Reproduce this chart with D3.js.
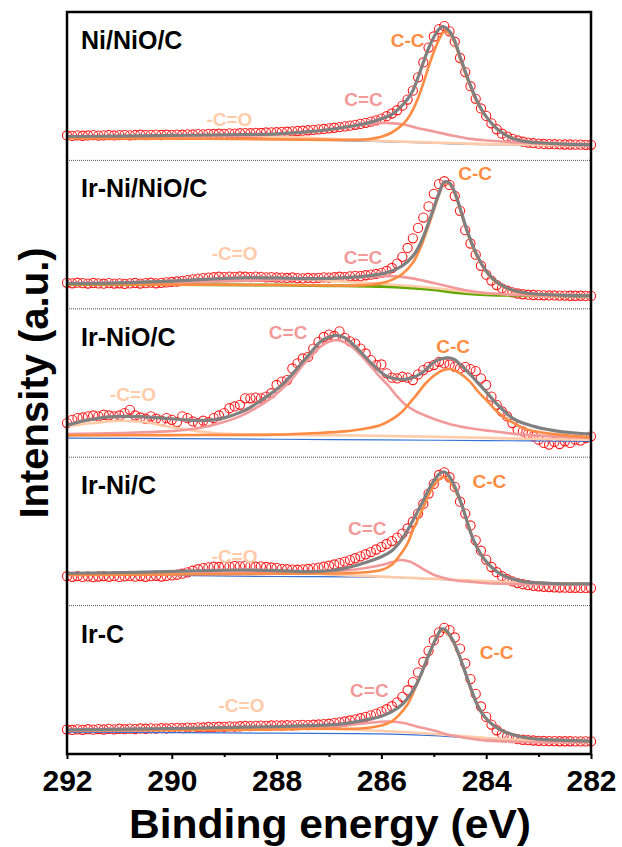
<!DOCTYPE html>
<html>
<head>
<meta charset="utf-8">
<script src="https://cdn.jsdelivr.net/npm/d3@7"></script>
<style>
  html, body { margin: 0; padding: 0; background: #fff; }
  svg { display: block; font-family: "Liberation Sans", Arial, sans-serif; }
</style>
</head>
<body>
<svg id="chart" width="622" height="847"></svg>
<script>
// ---------------- data ----------------
const panelNames = ["Ni/NiO/C", "Ir-Ni/NiO/C", "Ir-NiO/C", "Ir-Ni/C", "Ir-C"];
const xTicksMajor = [292, 290, 288, 286, 284, 282];
const xTicksMinor = [291, 289, 287, 285, 283];
const xTitle = "Binding energy (eV)";
const yTitle = "Intensity (a.u.)";

// measured points: 292.0 eV down to 282.0 eV, 0.1 eV steps (relative intensity, 0-100 per panel)
const dataNiNiOC = [
  16.8,16.5,16.9,16.6,16.8,17.0,16.7,16.9,17.1,16.8,
  17.0,17.2,16.9,17.1,17.3,17.0,17.2,17.4,17.1,17.3,
  17.2,17.4,17.3,17.6,17.5,17.7,17.6,17.9,17.8,18.0,
  17.9,18.2,18.1,18.3,18.4,18.3,18.6,18.5,18.8,18.9,
  19.0,19.2,19.3,19.6,19.8,20.0,20.3,20.6,20.9,21.2,
  21.6,22.0,22.4,22.9,23.4,24.0,24.6,25.3,26.1,27.0,
  28.2,29.8,31.6,33.8,36.9,41.0,47.0,56.0,66.0,76.0,
  83.5,88.5,90.5,87.0,80.0,69.0,59.5,50.0,41.5,35.0,
  30.0,25.0,21.0,18.0,16.0,14.5,13.4,12.6,12.0,11.6,
  11.3,11.1,11.0,10.9,10.8,10.7,10.7,10.6,10.6,10.5,
  10.5];
const dataIrNiNiOC = [
  17.5,17.2,17.6,17.3,17.0,17.4,17.1,16.9,17.3,17.0,
  17.2,16.8,17.1,17.4,17.0,17.3,17.6,17.2,17.5,17.8,
  18.1,18.4,18.8,19.3,19.8,20.3,20.7,21.0,21.3,21.6,
  21.4,21.7,21.5,21.8,21.6,21.4,21.7,21.5,21.2,21.4,
  21.1,21.0,20.8,21.1,20.7,20.5,20.8,20.6,20.9,21.2,
  21.0,21.3,21.6,21.4,21.9,22.2,22.0,22.6,23.0,23.5,
  24.2,25.5,27.5,30.5,35.0,41.0,47.5,54.5,61.5,69.0,
  77.5,84.0,86.0,83.5,76.0,66.0,53.0,44.0,36.5,29.0,
  23.0,19.0,16.0,13.8,12.2,11.1,10.3,9.8,9.5,9.3,
  9.2,9.1,9.0,9.0,8.9,8.9,8.8,8.8,8.8,8.7,
  8.7];
const dataIrNiOC = [
  23.0,25.2,26.3,26.8,27.5,28.1,27.5,28.6,28.1,27.5,
  28.1,29.7,31.9,28.1,26.8,25.9,27.5,25.9,24.6,26.3,
  25.2,23.7,27.5,26.3,24.1,23.0,24.6,23.7,26.3,28.1,
  29.7,33.0,34.2,35.3,39.7,39.7,40.2,39.7,40.8,43.1,
  48.7,50.9,52.0,59.8,63.2,66.5,67.6,73.2,77.7,81.0,
  82.6,81.7,84.8,80.4,78.1,76.6,73.2,69.9,65.4,62.1,
  62.5,56.5,53.6,53.1,54.2,53.6,52.0,55.8,58.7,60.9,
  62.1,64.3,63.2,62.5,60.9,59.8,60.9,59.4,58.0,53.1,
  48.7,40.8,35.3,30.8,27.5,23.0,18.5,17.4,15.6,14.1,
  11.8,9.6,8.5,10.3,8.9,10.7,9.6,11.8,11.2,12.9,
  14.1];
const dataIrNiC = [
  19.8,19.4,19.9,19.3,19.7,19.2,19.6,19.9,19.4,19.8,
  19.3,19.7,20.0,19.5,19.9,19.4,19.8,20.1,19.6,20.0,
  20.3,20.8,21.5,22.4,23.5,24.5,25.3,25.8,26.2,26.0,
  26.5,26.3,26.7,26.4,26.8,26.5,26.2,26.4,26.0,25.7,
  25.4,24.8,24.5,24.3,24.2,24.4,24.7,25.1,25.6,26.2,
  26.9,27.7,28.6,29.6,30.7,31.9,33.2,34.6,36.1,37.8,
  39.6,41.5,43.5,45.8,48.5,52.0,56.5,62.0,68.5,75.5,
  82.0,88.0,89.8,86.5,80.0,70.0,62.0,54.0,44.0,37.0,
  31.0,26.0,22.5,19.8,17.8,16.3,15.2,14.4,13.8,13.3,
  13.0,12.7,12.5,12.3,12.2,12.1,12.0,12.0,11.9,11.9,
  11.8];
const dataIrC = [
  16.5,16.2,16.6,16.3,16.7,16.4,16.8,16.5,16.9,16.6,
  17.0,16.7,17.1,16.8,17.2,17.0,17.3,17.1,17.4,17.2,
  17.5,17.6,17.4,17.8,17.6,18.0,17.9,18.2,18.1,18.4,
  18.3,18.6,18.5,18.7,18.9,18.8,19.0,19.1,19.0,19.2,
  19.3,19.2,19.4,19.3,19.5,19.6,19.5,19.7,19.9,20.1,
  20.4,20.8,21.3,21.9,22.6,23.3,24.1,25.0,26.0,27.2,
  28.6,30.2,32.2,34.8,38.5,43.0,48.5,55.0,62.0,69.5,
  76.5,82.0,85.0,83.5,78.5,71.0,61.0,50.5,40.5,32.0,
  25.0,19.8,16.0,13.5,11.8,10.7,10.0,9.6,9.3,9.1,
  8.9,8.8,8.7,8.7,8.6,8.6,8.6,8.5,8.5,8.5,
  8.5];
const panelData = [dataNiNiOC, dataIrNiNiOC, dataIrNiOC, dataIrNiC, dataIrC];

// fitted components, [binding energy, intensity] per panel
const fitBackground = [
  [[292,15.0],[290,14.8],[288,14.2],[287,13.5],[286,12.6],[285,11.6],[284.5,11.0],[284,10.6],[283,10.2],[282,10.0]],
  [[292,16.5],[290,16.3],[288,16.0],[287,15.6],[286,15.0],[285.5,14.2],[285,12.8],[284.6,11.0],[284.2,9.8],[283.8,9.2],[283,8.9],[282,8.7]],
  [[292,12.9],[290,12.5],[288,12.1],[286,11.7],[284,11.2],[282,10.7]],
  [[292,20.7],[290,20.3],[288,19.6],[286,19.1],[285,17.8],[284,16.2],[283,14.7],[282,14.0]],
  [[292,14.7],[290,14.4],[288,14.0],[286,13.6],[285,12.4],[284,10.2],[283,8.6],[282,7.9]]
];
const fitCO = [
  [[292,16.0],[291,16.1],[290,16.3],[289,16.5],[288,16.0],[287,14.6],[286,13.1],[285,12.0],[284,11.0],[283,10.5],[282,10.2]],
  [[292,17.0],[291,17.5],[290,18.5],[289.5,19.5],[289,20.5],[288.5,21.0],[288,20.8],[287.5,20.0],[287,19.0],[286.5,17.8],[286,16.8],[285.5,15.5],[285,14.0],[284.5,12.0],[284,10.5],[283,9.2],[282,8.8]],
  [[292,20.8],[291.5,23.0],[291,24.6],[290.5,23.5],[290.1,20.8],[289.6,18.0],[289.2,16.3],[288.5,15.3],[287,14.8],[285,13.8],[284,13.0],[283,12.3],[282,11.8]],
  [[292,21.0],[290.5,21.3],[290,21.5],[289.5,22.5],[289,23.5],[288.5,24.0],[288,23.0],[287.5,22.0],[287,21.0],[286,19.5],[285,18.0],[284,16.5],[283,14.8],[282,14.2]],
  [[292,16.0],[291,16.3],[290,16.8],[289,17.3],[288.5,17.5],[288,17.4],[287,16.8],[286,15.5],[285,13.5],[284,10.8],[283,9.0],[282,8.6]]
];
const fitCdC = [
  [[292,15.5],[291,15.7],[290,16.0],[289,16.5],[288,17.5],[287.4,19.0],[287,20.5],[286.7,22.2],[286.3,24.3],[285.9,25.3],[285.6,24.3],[285.3,21.7],[285,19.5],[284.65,16.8],[284.3,14.5],[283.97,13.4],[283.3,11.9],[282.5,10.8],[282,10.5]],
  [[292,17.0],[290,17.5],[289,18.5],[288,19.5],[287.5,20.0],[287,20.3],[286.5,21.0],[286.0,21.8],[285.8,22.0],[285.5,21.0],[285.2,19.0],[284.9,16.5],[284.6,14.0],[284.3,12.0],[284,10.6],[283.5,9.5],[283,9.0],[282,8.7]],
  [[292,15.6],[291,16.3],[290.1,17.4],[289.5,19.5],[289.07,23.0],[288.7,27.5],[288.4,33.0],[288.1,40.0],[287.92,45.3],[287.7,53],[287.5,62.0],[287.3,69.5],[287.17,74.3],[286.9,78.8],[286.75,78.2],[286.56,74.3],[286.4,69],[286.22,62.0],[286.05,55],[285.88,48.7],[285.7,41],[285.54,35.3],[285.35,31],[285.2,28.6],[284.9,24.5],[284.65,21.9],[284.3,19.5],[283.97,17.9],[283.3,15.2],[282.6,13.8],[282,12.9]],
  [[292,20.7],[290,21.2],[288.7,22.2],[287.5,22.6],[287,23.0],[286.7,23.6],[286.3,25.3],[286.0,27.3],[285.8,29.3],[285.62,30.7],[285.45,29.5],[285.33,27.3],[285.15,23.5],[285.0,20.7],[284.8,18.6],[284.65,17.3],[284.3,16.0],[283.97,15.1],[283,14.3],[282,14.0]],
  [[292,15.8],[290,16.3],[288.5,16.8],[287.37,17.6],[287,18.3],[286.7,19.2],[286.3,20.8],[285.88,21.9],[285.6,21.0],[285.33,18.6],[285.0,15.8],[284.65,12.4],[284.3,10.4],[283.97,9.0],[283.5,8.3],[282,7.9]]
];
const fitCC = [
  [[292,15.0],[290,14.7],[288,14.2],[287,13.8],[286.5,13.8],[286.2,14.6],[286.0,16.0],[285.8,18.8],[285.6,24.0],[285.5,28.0],[285.4,34.0],[285.3,42.0],[285.2,52.0],[285.1,63.0],[285.0,73.0],[284.9,81.5],[284.8,86.8],[284.7,85.5],[284.6,79.0],[284.5,68.5],[284.4,58.5],[284.3,49.5],[284.2,41.0],[284.1,34.5],[284.0,29.5],[283.8,21.5],[283.6,16.8],[283.4,14.0],[283.2,12.6],[283.0,11.8],[282.5,10.9],[282.0,10.5]],
  [[292,16.5],[290,16.3],[288,16.0],[287,15.7],[286.5,15.6],[286.2,16.2],[286.0,17.3],[285.8,19.5],[285.6,23.5],[285.4,31.0],[285.3,37.5],[285.2,46.0],[285.1,56.0],[285.0,66.5],[284.9,77.0],[284.8,84.5],[284.7,84.0],[284.6,77.5],[284.5,67.0],[284.4,55.5],[284.3,45.5],[284.2,37.0],[284.1,30.5],[284.0,25.0],[283.9,20.5],[283.8,17.5],[283.6,13.5],[283.4,11.3],[283.2,10.2],[283.0,9.6],[282.5,9.0],[282.0,8.7]],
  [[292,14.7],[290,14.9],[288.05,15.2],[287.2,16.3],[286.7,17.4],[286.3,19.3],[286.0,21.9],[285.8,25.5],[285.6,30.8],[285.45,37.0],[285.33,42.0],[285.15,50.0],[285.0,54.9],[284.85,58.3],[284.69,59.4],[284.5,56.5],[284.31,50.9],[284.15,44.0],[283.97,37.5],[283.8,31.0],[283.63,26.3],[283.45,22.5],[283.3,19.6],[283.0,17.0],[282.61,15.2],[282.3,14.2],[282,13.4]],
  [[292,20.7],[290,21.0],[288,21.5],[286.7,21.8],[286.3,22.5],[286.0,24.0],[285.8,27.5],[285.67,32.9],[285.5,42.0],[285.4,50.7],[285.3,58.5],[285.2,66.2],[285.1,74.5],[285.0,80.7],[284.9,85.0],[284.82,86.7],[284.75,85.5],[284.65,81.8],[284.55,74.5],[284.45,66.2],[284.35,55.5],[284.24,44.0],[284.1,34.5],[283.97,28.4],[283.8,23.0],[283.63,19.6],[283.45,17.5],[283.3,16.2],[283.0,15.3],[282.5,14.9],[282,14.7]],
  [[292,15.8],[290,16.1],[288,16.5],[287.37,17.0],[286.7,17.0],[286.35,17.3],[286.0,19.2],[285.8,22.0],[285.67,26.0],[285.5,33.5],[285.4,40.7],[285.3,49.0],[285.2,57.7],[285.1,66.5],[285.03,72.4],[284.94,79.5],[284.84,83.7],[284.75,81.5],[284.65,76.9],[284.55,69.0],[284.45,60.0],[284.35,49.5],[284.24,38.5],[284.1,29.0],[283.97,22.6],[283.8,17.8],[283.63,14.7],[283.45,12.6],[283.3,11.3],[283.0,10.0],[282.6,9.1],[282,8.6]]
];
const fitEnvelope = [
  [[292,16.1],[291,16.4],[290,16.8],[289,17.3],[288,17.9],[287.5,19.0],[287,20.8],[286.5,23.5],[286.2,25.8],[286,28.0],[285.8,31.0],[285.67,34.7],[285.5,41.4],[285.4,47.0],[285.3,56.0],[285.2,66.0],[285.1,75.5],[285.0,83.0],[284.9,88.5],[284.82,90.2],[284.7,87.0],[284.6,80.5],[284.5,70.0],[284.4,60.0],[284.3,50.5],[284.2,42.0],[284.1,35.0],[284.0,29.5],[283.8,21.5],[283.6,16.5],[283.4,13.8],[283.2,12.5],[283.0,11.9],[282.5,11.0],[282.0,10.5]],
  [[292,17.2],[291,17.5],[290,18.7],[289,20.5],[288.5,21.0],[288,20.8],[287.4,20.3],[287,20.5],[286.7,21.0],[286.3,22.0],[286.0,23.5],[285.8,25.5],[285.6,29.0],[285.4,35.5],[285.3,41.0],[285.2,48.5],[285.1,58.0],[285.0,68.0],[284.9,78.0],[284.8,85.5],[284.7,84.8],[284.6,78.5],[284.5,68.0],[284.4,56.5],[284.3,46.5],[284.2,38.0],[284.1,31.0],[284.0,25.5],[283.8,18.0],[283.6,14.0],[283.4,11.7],[283.2,10.5],[283.0,9.8],[282.5,9.1],[282.0,8.8]],
  [[292,21.4],[291.75,24.0],[291.46,25.9],[291.2,27.2],[290.9,27.5],[290.6,27.3],[290.37,26.8],[290.0,25.9],[289.76,25.2],[289.5,24.8],[289.2,25.2],[288.95,27.0],[288.73,29.7],[288.53,33.0],[288.33,37.5],[288.1,43.0],[287.9,48.7],[287.7,56.0],[287.5,64.3],[287.3,72.5],[287.17,77.7],[287.0,81.0],[286.86,82.1],[286.7,80.5],[286.56,76.6],[286.4,71.0],[286.22,64.3],[286.05,58.5],[285.88,54.2],[285.7,52.7],[285.54,52.5],[285.37,54.0],[285.2,57.6],[285.05,62.5],[284.93,65.4],[284.8,66.8],[284.72,67.0],[284.6,65.8],[284.52,63.2],[284.35,57.5],[284.18,50.9],[284.0,44.0],[283.84,37.5],[283.67,31.5],[283.5,26.3],[283.3,23.0],[283.09,20.8],[282.85,18.8],[282.61,17.4],[282.3,16.3],[282,15.6]],
  [[292,21.8],[290.5,22.5],[289.5,23.5],[288.73,24.0],[288,23.6],[287.37,22.9],[287.0,23.5],[286.7,25.1],[286.35,28.5],[286.0,32.9],[285.8,37.0],[285.67,41.8],[285.53,49.0],[285.4,57.3],[285.3,64.0],[285.2,70.7],[285.1,78.0],[285.0,84.0],[284.9,88.5],[284.82,90.2],[284.75,89.0],[284.65,84.0],[284.55,76.0],[284.45,66.2],[284.35,55.0],[284.24,44.0],[284.1,34.5],[283.97,28.4],[283.8,23.0],[283.63,19.6],[283.45,17.5],[283.3,16.2],[283.0,15.3],[282.61,14.7],[282,14.7]],
  [[292,16.3],[290,17.2],[288,18.5],[287,19.6],[286.7,20.5],[286.3,23.0],[286.0,25.5],[285.8,28.5],[285.6,33.5],[285.45,40.0],[285.33,47.0],[285.2,57.5],[285.1,66.5],[285.0,74.5],[284.92,80.5],[284.86,84.2],[284.78,83.8],[284.7,80.5],[284.6,74.0],[284.5,65.0],[284.4,55.0],[284.3,45.0],[284.2,35.5],[284.1,28.5],[283.97,22.6],[283.8,17.8],[283.63,14.7],[283.45,12.6],[283.3,11.3],[283.0,10.0],[282.6,9.3],[282,8.7]]
];
// peak labels: [energy, intensity] of label centre
const labelCC  = [[285.5,81.0],[284.21,91.0],[284.63,74.8],[283.94,83.6],[283.8,68.3]];
const labelCdC = [[286.34,40.9],[286.35,34.5],[287.78,83.7],[286.27,52.2],[286.23,43.0]];
const labelCO  = [[288.9,27.5],[288.8,37.5],[290.74,42.4],[288.8,33.3],[288.67,32.8]];

// ---------------- drawing ----------------
const plot = {left: 67, right: 591, top: 12, bottom: 754};
const nP = panelNames.length;
const pH = (plot.bottom - plot.top) / nP;

const colors = {
  data: "#FF1A1A", env: "#808080", cc: "#FF8C42", cdc: "#F29A9A",
  co: "#FFCBA8", bg: "#3572D8", bgGreen: "#62A800"
};

const svg = d3.select("#chart");
const x = d3.scaleLinear().domain([292, 282]).range([plot.left, plot.right]);
const energies = d3.range(0, 101).map(i => +(292 - i * 0.1).toFixed(1));

panelNames.forEach((name, i) => {
  const top = plot.top + i * pH;
  const y = d3.scaleLinear().domain([0, 100]).range([top + pH, top]);
  const g = svg.append("g");
  const line = d3.line().x(d => x(d[0])).y(d => y(d[1])).curve(d3.curveCatmullRom.alpha(0.5));

  g.append("g").selectAll("circle")
    .data(panelData[i].map((v, k) => [energies[k], v]))
    .join("circle")
    .attr("cx", d => x(d[0])).attr("cy", d => y(d[1])).attr("r", 4.6)
    .attr("fill", "none").attr("stroke", colors.data).attr("stroke-width", 1.1);

  g.append("path").datum(fitBackground[i]).attr("d", line).attr("fill", "none")
    .attr("stroke", i === 1 ? colors.bgGreen : colors.bg)
    .attr("stroke-width", i === 1 ? 3 : 1.2);
  g.append("path").datum(fitCO[i]).attr("d", line).attr("fill", "none")
    .attr("stroke", colors.co).attr("stroke-width", 2.6);
  g.append("path").datum(fitCdC[i]).attr("d", line).attr("fill", "none")
    .attr("stroke", colors.cdc).attr("stroke-width", 2.6);
  g.append("path").datum(fitCC[i]).attr("d", line).attr("fill", "none")
    .attr("stroke", colors.cc).attr("stroke-width", 2.6);
  g.append("path").datum(fitEnvelope[i]).attr("d", line).attr("fill", "none")
    .attr("stroke", colors.env).attr("stroke-width", 3.2);

  g.append("text").attr("x", 81).attr("y", top + 37)
    .attr("font-size", 25).attr("font-weight", "bold").attr("fill", "#000").text(name);
  const lab = (pos, txt, col) => g.append("text")
    .attr("x", x(pos[0])).attr("y", y(pos[1])).attr("text-anchor", "middle")
    .attr("dominant-baseline", "central").attr("font-size", 19).attr("font-weight", "bold")
    .attr("fill", col).text(txt);
  lab(labelCC[i], "C-C", colors.cc);
  lab(labelCdC[i], "C=C", colors.cdc);
  lab(labelCO[i], "-C=O", colors.co);

  if (i > 0) {
    svg.append("line").attr("x1", plot.left).attr("x2", plot.right)
      .attr("y1", top).attr("y2", top)
      .attr("stroke", "#555").attr("stroke-width", 1).attr("stroke-dasharray", "1,1");
  }
});

svg.append("rect").attr("x", plot.left).attr("y", plot.top)
  .attr("width", plot.right - plot.left).attr("height", plot.bottom - plot.top)
  .attr("fill", "none").attr("stroke", "#000").attr("stroke-width", 2.5);

const axMajor = svg.append("g").attr("transform", `translate(0,${plot.bottom})`)
  .call(d3.axisBottom(x).tickValues(xTicksMajor).tickSize(5).tickPadding(11).tickFormat(d3.format("d")));
axMajor.select(".domain").remove();
axMajor.selectAll("line").attr("stroke", "#000").attr("stroke-width", 2);
axMajor.selectAll("text").attr("font-size", 30).attr("font-weight", "bold")
  .attr("font-family", "Liberation Sans, Arial, sans-serif").attr("fill", "#000");
const axMinor = svg.append("g").attr("transform", `translate(0,${plot.bottom})`)
  .call(d3.axisBottom(x).tickValues(xTicksMinor).tickSize(3).tickFormat(""));
axMinor.select(".domain").remove();
axMinor.selectAll("line").attr("stroke", "#000").attr("stroke-width", 2);

svg.append("text").attr("x", 330).attr("y", 838)
  .attr("text-anchor", "middle").attr("font-size", 41).attr("font-weight", "bold")
  .attr("textLength", 402).attr("lengthAdjust", "spacingAndGlyphs").text(xTitle);
svg.append("text").attr("transform", `translate(48,${(plot.top + plot.bottom) / 2}) rotate(-90)`)
  .attr("text-anchor", "middle").attr("font-size", 40).attr("font-weight", "bold").text(yTitle);
</script>
</body>
</html>
